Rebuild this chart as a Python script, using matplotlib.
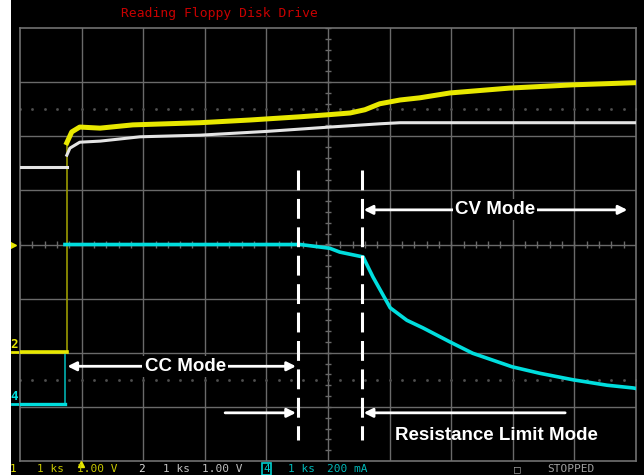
import numpy as np
from matplotlib import pyplot as plt
from matplotlib.patches import Rectangle

# scope traces, in screen divisions (x: 0..10, y: -4..4)
ch1_t = [0.0, 0.76, 0.76, 0.84, 0.97, 1.30, 1.83, 2.92, 3.73, 4.55, 5.03, 5.36, 5.60,
         5.84, 6.17, 6.49, 6.98, 7.95, 8.98, 10.0]
ch1_v = [-1.99, -1.99, 1.88, 2.08, 2.17, 2.15, 2.21, 2.25, 2.30, 2.36, 2.40, 2.43, 2.49,
         2.60, 2.67, 2.71, 2.80, 2.89, 2.95, 2.99]

ch2_t = [0.0, 0.76, 0.76, 0.81, 0.97, 1.30, 1.95, 2.92, 4.01, 5.03, 5.84, 6.17, 10.0]
ch2_v = [1.43, 1.43, 1.65, 1.78, 1.89, 1.91, 1.99, 2.02, 2.09, 2.17, 2.23, 2.25, 2.25]

ch4_t = [0.0, 0.73, 0.73, 4.55, 5.03, 5.19, 5.57, 5.73, 6.01, 6.28, 6.54, 6.98, 7.35,
         7.99, 8.44, 8.98, 9.53, 9.95, 10.0]
ch4_v = [-2.95, -2.95, 0.0, 0.0, -0.07, -0.14, -0.23, -0.60, -1.17, -1.40, -1.54, -1.80,
         -2.01, -2.26, -2.38, -2.50, -2.60, -2.65, -2.66]

# mode boundaries (divisions)
cc_end = 4.51
cv_start = 5.55
dash_top, dash_bot = 1.38, -3.61

title = "Reading Floppy Disk Drive"
status = [("1", "#e6e600", 10), ("1 ks", "#c8c800", 37), ("1.00 V", "#c8c800", 77),
          ("2", "#e0e0e0", 138), ("1 ks", "#c0c0c0", 163), ("1.00 V", "#c0c0c0", 202),
          ("4", "#00d0d0", 263), ("1 ks", "#00b8b8", 288), ("200 mA", "#00b8b8", 327),
          ("\u25a1", "#a0a0a0", 514), ("STOPPED", "#a0a0a0", 547)]

W, H = 644, 475
fig = plt.figure(figsize=(W / 100, H / 100), dpi=100, facecolor="black")
fig.patches.append(Rectangle((0, 0), 11 / W, 1, transform=fig.transFigure,
                             facecolor="white", edgecolor="none", zorder=0))

ax = fig.add_axes([20 / W, 1 - 461 / H, 616 / W, 433 / H])
ax.set_facecolor("black")
ax.set_xlim(0, 10)
ax.set_ylim(-4, 4)
ax.set_xticks([])
ax.set_yticks([])
for s in ax.spines.values():
    s.set_color("#707070")
    s.set_linewidth(1.2)

grid_c = "#6a6a6a"
for gx in range(1, 10):
    ax.axvline(gx, color=grid_c, lw=1.0, zorder=1)
for gy in range(-3, 4):
    ax.axhline(gy, color=grid_c, lw=1.0, zorder=1)
# center crosshair ticks
minor = np.arange(0, 10.01, 0.2)
ax.vlines(minor, -0.06, 0.06, color=grid_c, lw=1.0, zorder=1)
minor_y = np.arange(-4, 4.01, 0.2)
ax.hlines(minor_y, 4.95, 5.05, color=grid_c, lw=1.0, zorder=1)
# dotted rows
for dy in (2.5, -2.5):
    ax.plot(minor, np.full_like(minor, dy), ls="none", marker="s", ms=0.9,
            color="#505050", zorder=1)

# traces
ax.plot(ch2_t[2:], ch2_v[2:], color="#e4e4e4", lw=2.2, zorder=3)
ax.plot(ch2_t[:2], ch2_v[:2], color="#e4e4e4", lw=2.2, zorder=3)
ax.plot([ch1_t[1], ch1_t[2]], [ch1_v[1], ch1_v[2]], color="#9a9a00", lw=1.2, zorder=2)
ax.plot(ch1_t[2:], ch1_v[2:], color="#e8e800", lw=3.6, zorder=4)
ax.plot(ch1_t[:2], ch1_v[:2], color="#e8e800", lw=2.6, zorder=4)
ax.plot(ch4_t[:2], ch4_v[:2], color="#00dede", lw=2.4, zorder=4)
ax.plot([ch4_t[1], ch4_t[2]], [ch4_v[1], ch1_v[1]], color="#00b0b0", lw=1.2, zorder=2)
ax.plot(ch4_t[2:], ch4_v[2:], color="#00dede", lw=2.6, zorder=4)

# left channel markers
ax.plot([-0.13], [0], marker=">", ms=6, color="#e8e800", clip_on=False, zorder=5)
ax.plot([-0.13, 0], [ch1_v[0], ch1_v[0]], color="#e8e800", lw=2, clip_on=False)
ax.plot([-0.13, 0], [ch4_v[0], ch4_v[0]], color="#00dede", lw=2, clip_on=False)
ax.text(-0.09, ch1_v[0] + 0.02, "2", color="#e8e800", fontsize=9, family="DejaVu Sans Mono",
        fontweight="bold", ha="center", va="bottom", clip_on=False)
ax.text(-0.09, ch4_v[0] + 0.02, "4", color="#00dede", fontsize=9, family="DejaVu Sans Mono",
        fontweight="bold", ha="center", va="bottom", clip_on=False)
ax.plot([0.99], [-4.05], marker="^", ms=5, color="#e8e800", clip_on=False, zorder=5)

# annotations
dash = (0, (6.5, 2.8))
for xv in (cc_end, cv_start):
    ax.plot([xv, xv], [dash_top, dash_bot], color="white", lw=2.2, ls=dash, zorder=6)

arrow = dict(arrowstyle="<|-|>", color="white", lw=2.0, mutation_scale=13,
             shrinkA=0, shrinkB=0)
one_way = dict(arrowstyle="-|>", color="white", lw=2.0, mutation_scale=13,
               shrinkA=0, shrinkB=0)
font = dict(family="Liberation Sans", fontsize=13.5, fontweight="bold", color="white",
            ha="center", va="center", zorder=8)
box = dict(facecolor="black", edgecolor="none", pad=1.5)

ax.annotate("", xy=(9.86, 0.64), xytext=(cv_start + 0.03, 0.64), arrowprops=arrow, zorder=7)
ax.text(7.71, 0.64, "CV Mode", bbox=box, **font)

ax.annotate("", xy=(cc_end - 0.03, -2.25), xytext=(0.77, -2.25), arrowprops=arrow, zorder=7)
ax.text(2.68, -2.25, "CC Mode", bbox=box, **font)

ax.annotate("", xy=(cc_end - 0.03, -3.11), xytext=(3.33, -3.11), arrowprops=one_way, zorder=7)
ax.annotate("", xy=(cv_start + 0.03, -3.11), xytext=(8.85, -3.11), arrowprops=one_way, zorder=7)
ax.text(7.73, -3.53, "Resistance Limit Mode", **font)

# header / status line
fig.text(219 / W, 1 - 14 / H, title, color="#c80000", fontsize=9.4,
         family="DejaVu Sans Mono", ha="center", va="center")
for txt, col, px in status:
    kw = {}
    if txt == "4":
        kw["bbox"] = dict(facecolor="none", edgecolor=col, pad=0.6, lw=1.2)
    fig.text(px / W, 1 - 464 / H, txt, color=col, fontsize=8, family="DejaVu Sans Mono",
             ha="left", va="top", **kw)

fig.savefig("out.png", dpi=100, facecolor=fig.get_facecolor())
